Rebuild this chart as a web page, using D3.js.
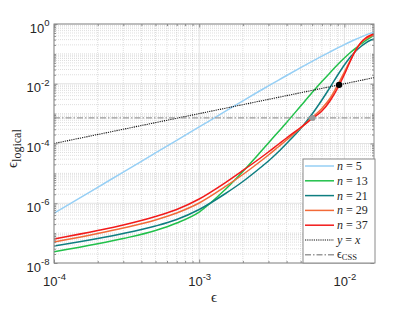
<!DOCTYPE html>
<html><head><meta charset="utf-8">
<script src="https://cdn.jsdelivr.net/npm/d3@7"></script>
<style>body{margin:0;background:#fff;} svg{display:block;}</style>
</head><body><svg id="c" width="415" height="312"></svg>
<script>
// ---- data ----
const eps = [1e-4,2e-4,3e-4,5e-4,7e-4,1e-3,1.5e-3,2e-3,2.5e-3,3e-3,3.5e-3,4e-3,5e-3,6e-3,7e-3,8e-3,9e-3,1e-2,1.1e-2,1.2e-2,1.3e-2,1.4e-2,1.5e-2,1.6e-2];
const nValues = [5, 13, 21, 29, 37];
const pL_n5  = [4.61e-7,3.42e-6,1.10e-5,4.84e-5,1.28e-4,3.60e-4,1.16e-3,2.69e-3,5.09e-3,8.47e-3,1.30e-2,1.89e-2,3.47e-2,5.64e-2,8.43e-2,0.118,0.158,0.204,0.254,0.308,0.364,0.425,0.485,0.52];
const pL_n13 = [2.39e-8,4.40e-8,6.61e-8,1.22e-7,2.18e-7,5.09e-7,2.78e-6,1.16e-5,3.82e-5,1.04e-4,2.43e-4,5.05e-4,1.80e-3,5.09e-3,1.19e-2,2.38e-2,4.41e-2,7.28e-2,0.111,0.157,0.214,0.280,0.345,0.412];
const pL_n21 = [3.71e-8,6.61e-8,9.70e-8,1.73e-7,2.86e-7,6.18e-7,2.04e-6,5.35e-6,1.25e-5,2.59e-5,5.19e-5,1.00e-4,3.18e-4,9.71e-4,2.86e-3,7.78e-3,1.96e-2,4.25e-2,7.86e-2,0.125,0.177,0.231,0.280,0.315];
const pL_n29 = [5.05e-8,9.70e-8,1.49e-7,2.75e-7,4.72e-7,1.02e-6,3.50e-6,9.16e-6,2.06e-5,4.12e-5,7.64e-5,1.31e-4,3.30e-4,7.41e-4,1.49e-3,3.33e-3,9.08e-3,2.47e-2,6.24e-2,0.135,0.231,0.315,0.382,0.428];
const pL_n37 = [6.35e-8,1.22e-7,1.87e-7,3.60e-7,6.18e-7,1.39e-6,4.76e-6,1.25e-5,2.70e-5,5.19e-5,9.27e-5,1.53e-4,3.43e-4,6.87e-4,1.22e-3,2.75e-3,7.21e-3,2.04e-2,5.78e-2,0.135,0.240,0.340,0.412,0.463];
const seriesColors = ["#96cff5","#21c04a","#0e7e80","#f26a38","#f21a1a"];
const epsCSS = 7.2e-4;
const diagX = [1e-4, 1.6e-2];
const blackDot = [0.0092, 0.0092];
const grayDot = [0.00604, 7.2e-4];
const xTicks = [1e-4, 1e-3, 1e-2];
const xTickExp = ["-4", "-3", "-2"];
const yTicks = [1, 1e-2, 1e-4, 1e-6, 1e-8];
const yTickExp = ["0", "-2", "-4", "-6", "-8"];

// ---- layout ----
const L = 54, R = 374, T = 24, B = 263;
const svg = d3.select("#c");
const x = d3.scaleLog().domain([1e-4, 1.6e-2]).range([L, R]);
const y = d3.scaleLog().domain([1e-8, 1]).range([B, T]);

const sans = "'Liberation Sans', Arial, sans-serif";
const serif = "'Liberation Serif', 'Times New Roman', serif";

// grid
const isMajor = (arr, v) => arr.some(t => Math.abs(Math.log10(t) - Math.log10(v)) < 1e-6);
const xMinor = x.ticks().filter(v => !isMajor(xTicks, v) && v > 1e-4 && v < 1.6e-2);
const yMinor = y.ticks().filter(v => !isMajor(yTicks, v));
const grid = svg.append("g");
grid.selectAll(".xm").data(xMinor).join("line")
  .attr("x1", d => x(d)).attr("x2", d => x(d)).attr("y1", T).attr("y2", B)
  .attr("stroke", "#c8c8c8").attr("stroke-width", 0.6).attr("stroke-dasharray", "1,1");
grid.selectAll(".ym").data(yMinor).join("line")
  .attr("y1", d => y(d)).attr("y2", d => y(d)).attr("x1", L).attr("x2", R)
  .attr("stroke", "#c8c8c8").attr("stroke-width", 0.6).attr("stroke-dasharray", "1,1");
grid.selectAll(".xM").data(xTicks).join("line")
  .attr("x1", d => x(d)).attr("x2", d => x(d)).attr("y1", T).attr("y2", B)
  .attr("stroke", "#dadada").attr("stroke-width", 0.8);
grid.selectAll(".yM").data(yTicks).join("line")
  .attr("y1", d => y(d)).attr("y2", d => y(d)).attr("x1", L).attr("x2", R)
  .attr("stroke", "#dadada").attr("stroke-width", 0.8);

// curves
svg.append("defs").append("clipPath").attr("id", "clip")
  .append("rect").attr("x", L).attr("y", T).attr("width", R - L).attr("height", B - T);
const plot = svg.append("g").attr("clip-path", "url(#clip)");
const line = d3.line().x(d => x(d[0])).y(d => y(d[1])).curve(d3.curveMonotoneX);
const allSeries = [pL_n5, pL_n13, pL_n21, pL_n29, pL_n37];
allSeries.forEach((s, i) => {
  plot.append("path").datum(eps.map((e, k) => [e, s[k]]))
    .attr("d", line).attr("fill", "none")
    .attr("stroke", seriesColors[i]).attr("stroke-width", 1.5);
});
// y = x
plot.append("path").datum(diagX.map(v => [v, v])).attr("d", d3.line().x(d => x(d[0])).y(d => y(d[1])))
  .attr("stroke", "#111").attr("stroke-width", 1.1).attr("stroke-dasharray", "1.2,1").attr("fill", "none");
// eps_CSS
plot.append("line").attr("x1", L).attr("x2", R).attr("y1", y(epsCSS)).attr("y2", y(epsCSS))
  .attr("stroke", "#9a9a9a").attr("stroke-width", 1.4).attr("stroke-dasharray", "6,2,1.5,2");
plot.append("circle").attr("cx", x(grayDot[0])).attr("cy", y(grayDot[1])).attr("r", 3).attr("fill", "#999");
plot.append("circle").attr("cx", x(blackDot[0])).attr("cy", y(blackDot[1])).attr("r", 3.2).attr("fill", "#000");

// axes (ticks inside, mirrored)
const axColor = "#8a8a8a";
function styleAxis(g) {
  g.select(".domain").remove();
  g.selectAll("line").attr("stroke", axColor);
}
const xb = svg.append("g").attr("transform", `translate(0,${B})`)
  .call(d3.axisBottom(x).tickValues(xTicks).tickSize(-3.5).tickPadding(0).tickFormat(() => ""));
styleAxis(xb);
xb.selectAll(".tick text").each(function(d, i) {
  const t = d3.select(this).attr("y", 23).attr("dy", null)
    .attr("font-family", sans).attr("font-size", 13).attr("fill", "#262626").attr("text-anchor", "middle");
  t.append("tspan").text("10");
  t.append("tspan").attr("dy", -6.5).attr("font-size", 9.5).text(xTickExp[i]);
});
svg.append("g").attr("transform", `translate(0,${B})`)
  .call(d3.axisBottom(x).tickValues(xMinor).tickSize(-2).tickFormat(() => "")).call(styleAxis);
svg.append("g").attr("transform", `translate(0,${T})`)
  .call(d3.axisTop(x).tickValues(xTicks).tickSize(-3.5).tickFormat(() => "")).call(styleAxis);
svg.append("g").attr("transform", `translate(0,${T})`)
  .call(d3.axisTop(x).tickValues(xMinor).tickSize(-2).tickFormat(() => "")).call(styleAxis);

const yl = svg.append("g").attr("transform", `translate(${L},0)`)
  .call(d3.axisLeft(y).tickValues(yTicks).tickSize(-3.5).tickPadding(0).tickFormat(() => ""));
styleAxis(yl);
yl.selectAll(".tick text").each(function(d, i) {
  const t = d3.select(this).attr("x", -4.5).attr("dy", null).attr("y", 8)
    .attr("font-family", sans).attr("font-size", 13).attr("fill", "#262626").attr("text-anchor", "end");
  t.append("tspan").text("10");
  t.append("tspan").attr("dy", -6.5).attr("font-size", 9.5).text(yTickExp[i]);
});
svg.append("g").attr("transform", `translate(${L},0)`)
  .call(d3.axisLeft(y).tickValues(yMinor).tickSize(-2).tickFormat(() => "")).call(styleAxis);
svg.append("g").attr("transform", `translate(${R},0)`)
  .call(d3.axisRight(y).tickValues(yTicks).tickSize(-3.5).tickFormat(() => "")).call(styleAxis);
svg.append("g").attr("transform", `translate(${R},0)`)
  .call(d3.axisRight(y).tickValues(yMinor).tickSize(-2).tickFormat(() => "")).call(styleAxis);

svg.append("rect").attr("x", L).attr("y", T).attr("width", R - L).attr("height", B - T)
  .attr("fill", "none").attr("stroke", axColor).attr("stroke-width", 1);

// axis labels
svg.append("text").attr("x", 214).attr("y", 302).attr("text-anchor", "middle")
  .attr("font-family", serif).attr("font-size", 15).attr("fill", "#262626").text("ϵ");
const ylab = svg.append("text").attr("transform", "translate(17,168) rotate(-90)")
  .attr("font-family", serif).attr("font-size", 15).attr("fill", "#262626");
ylab.append("tspan").text("ϵ");
ylab.append("tspan").attr("dy", 3.5).attr("font-size", 12).text("logical");

// legend
const lg = svg.append("g");
lg.append("rect").attr("x", 303).attr("y", 159).attr("width", 72).attr("height", 104)
  .attr("fill", "#fff").attr("stroke", axColor).attr("stroke-width", 1);
const rowY = i => 166 + i * 14.8;
nValues.forEach((n, i) => {
  lg.append("line").attr("x1", 305).attr("x2", 334).attr("y1", rowY(i)).attr("y2", rowY(i))
    .attr("stroke", seriesColors[i]).attr("stroke-width", 1.5);
  const t = lg.append("text").attr("x", 337).attr("y", rowY(i) + 4)
    .attr("font-family", serif).attr("font-size", 12).attr("fill", "#262626");
  t.append("tspan").attr("font-style", "italic").text("n");
  t.append("tspan").text(" = " + n);
});
lg.append("line").attr("x1", 305).attr("x2", 334).attr("y1", rowY(5)).attr("y2", rowY(5))
  .attr("stroke", "#111").attr("stroke-width", 1.1).attr("stroke-dasharray", "1.2,1");
const t5 = lg.append("text").attr("x", 337).attr("y", rowY(5) + 4)
  .attr("font-family", serif).attr("font-size", 12).attr("fill", "#262626");
t5.append("tspan").attr("font-style", "italic").text("y");
t5.append("tspan").text(" = ");
t5.append("tspan").attr("font-style", "italic").text("x");
lg.append("line").attr("x1", 305).attr("x2", 334).attr("y1", rowY(6)).attr("y2", rowY(6))
  .attr("stroke", "#9a9a9a").attr("stroke-width", 1.4).attr("stroke-dasharray", "6,2,1.5,2");
const t6 = lg.append("text").attr("x", 337).attr("y", rowY(6) + 3)
  .attr("font-family", serif).attr("font-size", 12).attr("fill", "#262626");
t6.append("tspan").text("ϵ");
t6.append("tspan").attr("dy", 2).attr("font-size", 8.5).text("CSS");
</script></body></html>
